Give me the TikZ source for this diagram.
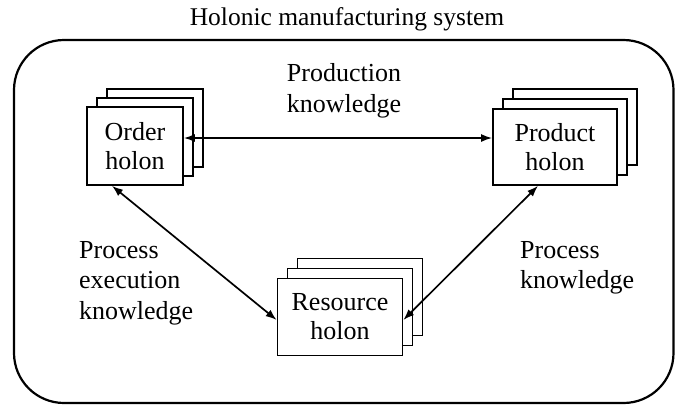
\documentclass[tikz,border=0pt]{standalone}
\usepackage{fontspec}
\setmainfont{LiberationSerif}[Extension=.ttf, UprightFont=*-Regular, BoldFont=*-Bold]
\usetikzlibrary{arrows.meta}
\begin{document}
\begin{tikzpicture}[x=1pt,y=-1pt,
  lbl/.style={font=\fontsize{26}{30.5}\selectfont, inner sep=0pt},
  holon/.style={draw, line width=1.7pt, fill=white, inner sep=0pt, align=center,
    font=\fontsize{26}{29}\selectfont},
  link/.style={line width=1.7pt, {Latex[length=11pt,width=8pt]}-{Latex[length=11pt,width=8pt]}}]
\useasboundingbox (0,0) rectangle (675,405);
\node[lbl, font=\fontsize{25.5}{30}\selectfont] (title) at (347,19) {Holonic manufacturing system};
\draw[line width=2.2pt, rounded corners=50pt] (14,40) rectangle (673.5,403);
% Order holon stack
\node[holon, minimum width=96pt, minimum height=78pt] (ob) at (155,128) {};
\node[holon, minimum width=96pt, minimum height=78pt] (om) at (145,137) {};
\node[holon, minimum width=96pt, minimum height=78pt] (order) at (135,146) {Order\\holon};
% Product holon stack
\node[holon, minimum width=124pt, minimum height=76pt] (pb) at (575,127) {};
\node[holon, minimum width=124pt, minimum height=76pt] (pm) at (565,137) {};
\node[holon, minimum width=124pt, minimum height=76pt] (product) at (555,147) {Product\\holon};
% Resource holon stack
\node[holon, minimum width=125pt, minimum height=77pt] (rb) at (360,297) {};
\node[holon, minimum width=125pt, minimum height=77pt] (rm) at (350,307) {};
\node[holon, minimum width=125pt, minimum height=77pt] (resource) at (340,317) {Resource\\holon};
% labels
\node[lbl, align=center] (prodk) at (344,91) {Production\\knowledge};
\node[lbl, align=left, anchor=west] (pek) at (79,283) {Process\\execution\\knowledge};
\node[lbl, align=left, anchor=west] (pk) at (520,268) {Process\\knowledge};
% connectors
\draw[link] ([yshift=8pt]order.east) -- ([yshift=9pt]product.west);
\draw[link] ([xshift=-23pt]order.south) -- ([yshift=-3pt]resource.west);
\draw[link] ([xshift=-17pt]product.south) -- ([yshift=-3pt]resource.east);
\end{tikzpicture}
\end{document}
